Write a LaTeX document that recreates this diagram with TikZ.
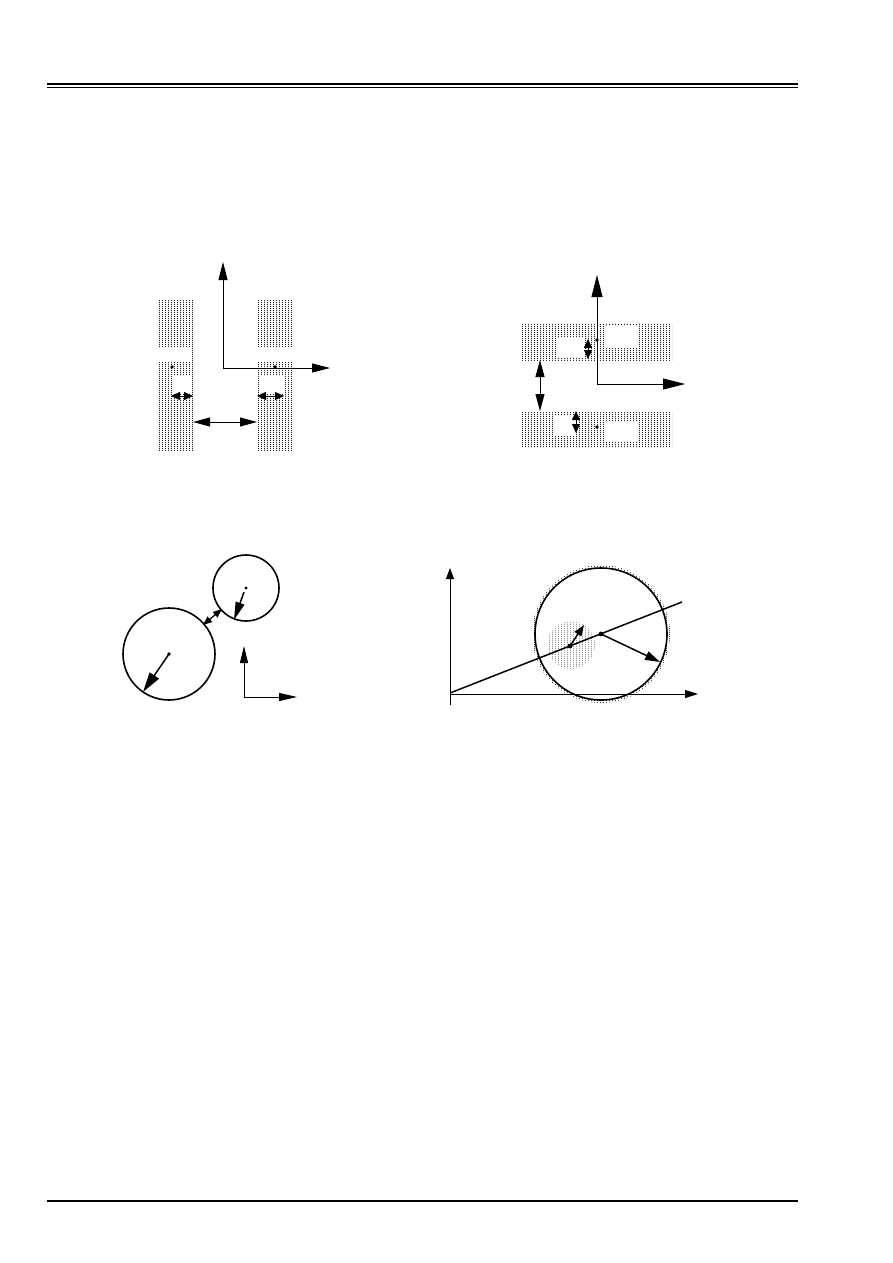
\documentclass[tikz,border=0pt]{standalone}
\usepackage{tikz}
\usetikzlibrary{arrows.meta, patterns}

\pgfdeclarepatternformonly{dotcols}{\pgfqpoint{0pt}{0pt}}{\pgfqpoint{3pt}{2pt}}{\pgfqpoint{3pt}{2pt}}{%
  \pgfpathrectangle{\pgfqpoint{0pt}{0pt}}{\pgfqpoint{1.2pt}{1.5pt}}\pgfusepath{fill}}

\begin{document}
\begin{tikzpicture}[x=1pt,y=-1pt,
  ax/.style={line width=0.9pt,-{Triangle[length=18pt,width=9pt]}},
  bigax/.style={line width=0.9pt,-{Triangle[length=22pt,width=11pt]}},
  dbl/.style={line width=0.9pt,{Triangle[length=17pt,width=9pt]}-{Triangle[length=17pt,width=9pt]}},
  sdbl/.style={line width=0.9pt,{Triangle[length=9pt,width=8pt]}-{Triangle[length=9pt,width=8pt]}},
  arr/.style={line width=1.5pt,-{Triangle[length=20pt,width=11pt]}},
  bar/.style={pattern=dotcols,pattern color=black!85},
  ring/.style={line width=1.6pt}]
\useasboundingbox (0,0) rectangle (892,1263);

% page rules
\draw[line width=1.3pt] (47,84) -- (798,84);
\draw[line width=1.3pt] (47,87.5) -- (798,87.5);
\draw[line width=2.4pt] (47,1201) -- (798,1201);

% top left: two vertical bars
\fill[bar] (157,300) rectangle (193,450);
\fill[white] (157,348) rectangle (192,362);
\fill[white] (174,376) rectangle (190,393);
\fill[bar] (257,300) rectangle (293,450);
\fill[white] (258,348) rectangle (293,362);
\fill[white] (259,376) rectangle (283,393);
\fill (172,367) circle (1.8) (275,367) circle (1.8);
\coordinate (O1) at (223,368);
\draw[ax] (O1) -- (223,262);
\draw[ax] (O1) -- (330,368);
\draw[sdbl] (171,396) -- (193,396);
\draw[sdbl] (257,396) -- (284,396);
\draw[dbl] (193,422) -- (257,422);

% top right: two horizontal bars
\fill[bar] (522,323) rectangle (672,360);
\fill[white] (557,338) rectangle (585,357);
\fill[white] (605,326) rectangle (638,348);
\fill[bar] (522,412) rectangle (672,447);
\fill[white] (553,415) rectangle (576,436);
\fill[white] (606,422) rectangle (638,441);
\fill (597,340) circle (1.8) (597,427) circle (1.8);
\coordinate (O2) at (597,384);
\draw[bigax] (O2) -- (597,275);
\draw[bigax] (O2) -- (685,384);
\draw[sdbl] (588,339) -- (588,359);
\draw[sdbl] (576,411) -- (576,433);
\draw[dbl] (540,360) -- (540,411);

% bottom left: two discs
\coordinate (C1) at (169,654);
\coordinate (C2) at (246,588);
\draw[ring] (C1) circle (46);
\draw[ring] (C2) circle (33);
\fill (C1) circle (1.8) (C2) circle (1.6);
\draw[arr] (C1) -- (143,692);
\draw[arr,-{Triangle[length=18pt,width=9pt]}] (244,592) -- (234,620);
\draw[line width=1.3pt,{Triangle[length=9pt,width=7pt]}-{Triangle[length=9pt,width=7pt]}] (203,625) -- (222,609);
\coordinate (O3) at (244,697);
\draw[ax,-{Triangle[length=17pt,width=8pt]}] (O3) -- (244,646);
\draw[ax,-{Triangle[length=18pt,width=8pt]}] (O3) -- (297,697);

% bottom right: disc on an inclined line
\coordinate (C3) at (601,634);
\coordinate (P) at (570,646);
\fill[pattern=dotcols,pattern color=black!70] (C3) circle (69);
\fill[white] (C3) circle (66);
\fill[pattern=dotcols,pattern color=black!40] (571,645) circle (24);
\draw[ring] (C3) circle (66);
\draw[line width=0.9pt] (450,705) -- (450,690);
\draw[ax,-{Triangle[length=11pt,width=8pt]}] (450,694) -- (450,568);
\draw[ax,-{Triangle[length=13pt,width=8pt]}] (450,694) -- (698,694);
\draw[line width=1.5pt] (450,693) -- (682,602);
\fill (P) circle (2.4) (C3) circle (2.4);
\draw[arr,-{Triangle[length=11pt,width=8pt]}] (P) -- (584,625);
\draw[arr,-{Triangle[length=15pt,width=9pt]}] (C3) -- (660,662);
\end{tikzpicture}
\end{document}
